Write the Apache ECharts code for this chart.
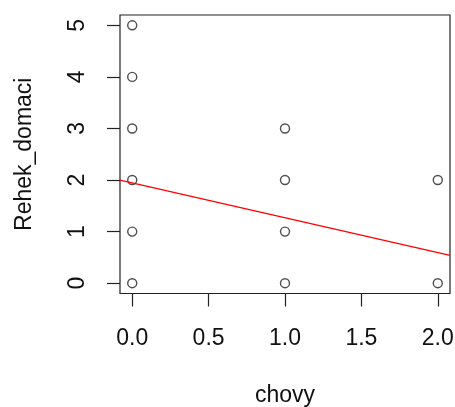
<!DOCTYPE html>
<html>
<head>
<meta charset="utf-8">
<script src="https://cdn.jsdelivr.net/npm/echarts@6/dist/echarts.min.js"></script>
<style>
  html, body { margin: 0; padding: 0; background: #fff; }
  #chart { width: 455px; height: 407px; }
</style>
</head>
<body>
<div id="chart"></div>
<script>
// Observations: number of cows (chovy) vs. domestic rank (Rehek_domaci)
const chovy = [0, 0, 0, 0, 0, 0, 1, 1, 1, 1, 2, 2];
const rehekDomaci = [0, 1, 2, 3, 4, 5, 0, 1, 2, 3, 0, 2];

// Fitted regression line, endpoints at the edges of the plotting region
const fitX = [-0.08, 2.08];
const fitY = [2.0, 0.537];

// Tick labels
const xTicks = [0, 0.5, 1, 1.5, 2];
const yTicks = [0, 1, 2, 3, 4, 5];

const FONT = 'Liberation Sans, Arial, sans-serif';
const chart = echarts.init(document.getElementById('chart'), null, { renderer: 'canvas' });

chart.setOption({
  backgroundColor: '#ffffff',
  animation: false,
  grid: {
    left: 120, right: 5, top: 15, bottom: 113.5,
    containLabel: false,
    outerBoundsMode: 'none',
    show: true, borderColor: '#222', borderWidth: 1.2,
    backgroundColor: 'transparent'
  },
  xAxis: {
    type: 'value',
    min: -0.08, max: 2.08,
    name: 'chovy',
    nameLocation: 'middle',
    nameGap: 91,
    nameTextStyle: { fontFamily: FONT, fontSize: 23, color: '#111' },
    axisLine: { show: false, onZero: false },
    splitLine: { show: false },
    axisTick: {
      show: true, inside: false, length: 13,
      customValues: xTicks,
      lineStyle: { color: '#222', width: 1.2 }
    },
    axisLabel: {
      customValues: xTicks,
      margin: 34,
      fontFamily: FONT, fontSize: 23, color: '#111',
      formatter: v => v.toFixed(1)
    }
  },
  yAxis: {
    type: 'value',
    min: -0.2, max: 5.2,
    name: 'Rehek_domaci',
    nameLocation: 'middle',
    nameGap: 84,
    nameTextStyle: { fontFamily: FONT, fontSize: 23, color: '#111' },
    axisLine: { show: false, onZero: false },
    splitLine: { show: false },
    axisTick: {
      show: true, inside: false, length: 13,
      customValues: yTicks,
      lineStyle: { color: '#222', width: 1.2 }
    },
    axisLabel: {
      customValues: yTicks,
      rotate: 90,
      margin: 31,
      fontFamily: FONT, fontSize: 23, color: '#111',
      formatter: v => String(v)
    }
  },
  series: [
    {
      type: 'scatter',
      data: chovy.map((x, i) => [x, rehekDomaci[i]]),
      symbol: 'circle',
      symbolSize: 9,
      itemStyle: { color: 'transparent', borderColor: '#222', borderWidth: 1.4 },
      emphasis: { disabled: true },
      z: 3
    },
    {
      type: 'line',
      data: fitX.map((x, i) => [x, fitY[i]]),
      showSymbol: false,
      lineStyle: { color: '#ff0000', width: 1.3 },
      emphasis: { disabled: true },
      z: 4
    }
  ]
});
</script>
</body>
</html>
